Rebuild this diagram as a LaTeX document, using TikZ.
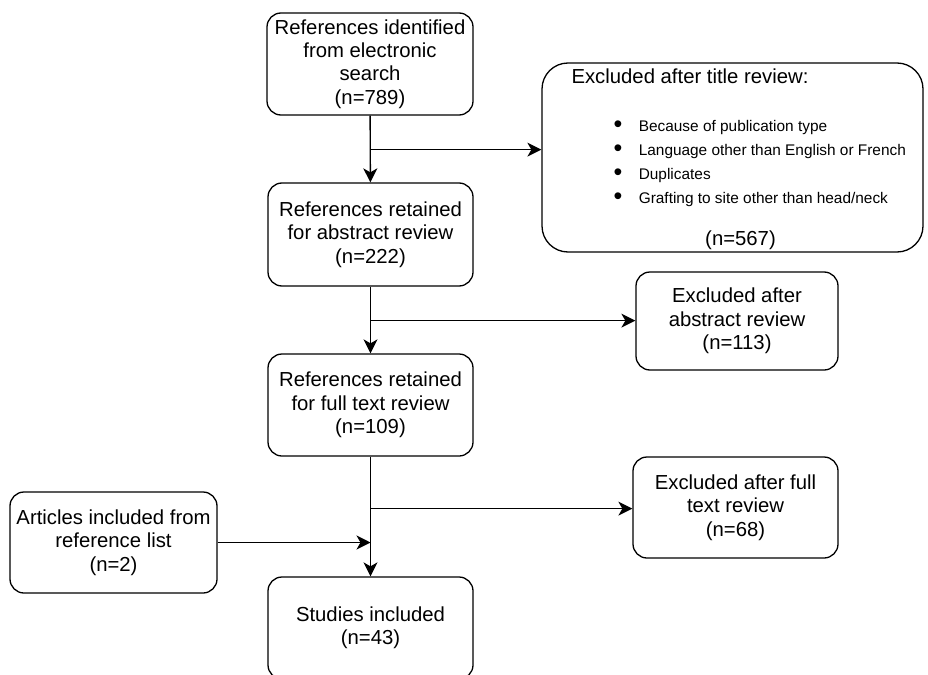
\documentclass[tikz,border=0pt]{standalone}
\usepackage{fontspec}
\setmainfont{Liberation Sans}
\usetikzlibrary{arrows.meta}

\begin{document}
\begin{tikzpicture}[
    x=1pt, y=-1pt,
    box/.style={draw, line width=1.3pt, rounded corners=14pt, inner sep=0pt,
      align=center, font=\fontsize{20.3}{23.3}\selectfont},
    flow/.style={line width=1.4pt, -{Stealth[length=14pt,width=14pt,inset=4pt]}},
    bullettext/.style={inner sep=0pt, align=left, font=\fontsize{15.4}{24}\selectfont}
  ]
  \useasboundingbox (0,0) rectangle (928,674);
  \clip (0,0) rectangle (928,674);

  % main column
  \node[box, minimum width=206pt, minimum height=102pt] (search) at (370,64)
    {References identified\\from electronic\\search\\(n=789)};
  \node[box, minimum width=205pt, minimum height=103pt] (abstract) at (370.5,234.5)
    {References retained\\for abstract review\\(n=222)};
  \node[box, minimum width=205pt, minimum height=102pt] (fulltext) at (370.5,405)
    {References retained\\for full text review\\(n=109)};
  \node[box, minimum width=205pt, minimum height=102pt] (included) at (370.5,628)
    {Studies included\\(n=43)};

  % exclusions
  \node[box, rounded corners=26pt, minimum width=381pt, minimum height=189pt] (extitle) at (732.5,157.5) {};
  \node[inner sep=0pt, anchor=west, font=\fontsize{20.3}{23.3}\selectfont] (extitlehead)
    at ([xshift=30pt,yshift=-14pt]extitle.north west) {Excluded after title review:};
  \node[bullettext, anchor=north west] (extitlelist) at ([xshift=72pt,yshift=-52pt]extitle.north west)
    {\begin{tabular}{@{}l@{\hspace{16.5pt}}l@{}}
      {\fontsize{25}{0}\selectfont\raisebox{-1.6pt}{\textbullet}} & Because of publication type\\
      {\fontsize{25}{0}\selectfont\raisebox{-1.6pt}{\textbullet}} & Language other than English or French\\
      {\fontsize{25}{0}\selectfont\raisebox{-1.6pt}{\textbullet}} & Duplicates\\
      {\fontsize{25}{0}\selectfont\raisebox{-1.6pt}{\textbullet}} & Grafting to site other than head/neck
    \end{tabular}};
  \node[inner sep=0pt, font=\fontsize{20.3}{23.3}\selectfont] (extitlen)
    at ([xshift=8pt,yshift=12pt]extitle.south) {(n=567)};

  \node[box, minimum width=202pt, minimum height=98pt] (exabstract) at (737,321)
    {Excluded after\\abstract review\\(n=113)};
  \node[box, minimum width=205pt, minimum height=101pt] (exfulltext) at (735.5,507.5)
    {Excluded after full\\text review\\(n=68)};

  % extra source
  \node[box, minimum width=207pt, minimum height=101pt] (reflist) at (113.5,542.5)
    {Articles included from\\reference list\\(n=2)};

  % connectors
  \coordinate (split1) at ([yshift=-34pt]search.south);
  \coordinate (split2) at ([yshift=-34pt]abstract.south);
  \coordinate (split3) at ([yshift=-52pt]fulltext.south);

  \draw[flow] (search) -- (abstract);
  \draw[flow] (split1) -- (split1 -| extitle.west);
  \draw[flow] (abstract) -- (fulltext);
  \draw[flow] (split2) -- (split2 -| exabstract.west);
  \draw[flow] (fulltext) -- (included);
  \draw[flow] (split3) -- (split3 -| exfulltext.west);
  \draw[flow] (reflist.east) -- (reflist.east -| included.north);
\end{tikzpicture}
\end{document}
